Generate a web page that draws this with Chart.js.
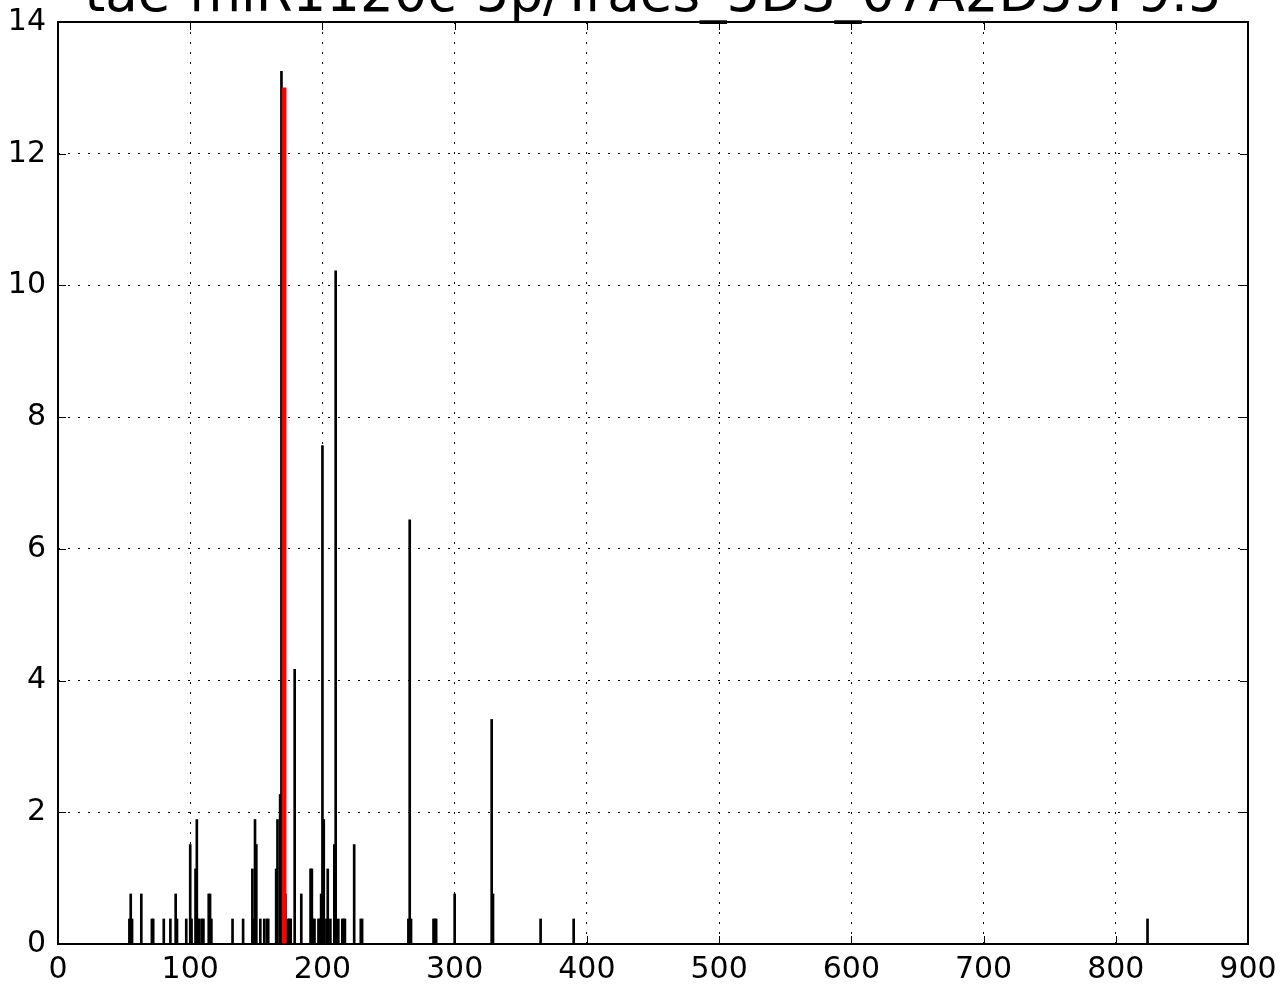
<!DOCTYPE html>
<html>
<head>
<meta charset="utf-8">
<script src="https://cdn.jsdelivr.net/npm/chart.js@4"></script>
<style>
  body { margin: 0; background: #fff; }
  #wrap { width: 1282px; height: 985px; }
</style>
</head>
<body>
<div id="wrap"><canvas id="chart"></canvas></div>
<script>
// read positions and read-out heights
const titleText = "tae-miR1120c-5p/Traes_5DS_07A2D59F9.5";
const positions = [54, 55, 56, 63, 71, 72, 80, 85, 89, 90, 97, 100, 101, 104, 105, 106, 107, 109, 110,
  114, 115, 116, 132, 140, 147, 148, 149, 150, 153, 156, 158, 159, 165, 166, 168, 169, 172, 174, 175,
  176, 179, 184, 191, 192, 193, 194, 197, 198, 199, 200, 201, 203, 204, 206, 209, 210, 212, 215, 216,
  217, 224, 229, 230, 265, 266, 267, 284, 285, 286, 300, 328, 329, 365, 390, 824];
const heights = [0.38, 0.76, 0.38, 0.76, 0.38, 0.38, 0.38, 0.38, 0.76, 0.38, 0.38, 1.51, 0.38, 1.14, 1.89, 0.38, 0.38, 0.38, 0.38,
  0.76, 0.76, 0.38, 0.38, 0.38, 1.14, 0.38, 1.89, 1.51, 0.38, 0.38, 0.38, 0.38, 1.14, 1.89, 2.27, 13.25, 0.76, 0.38, 0.38,
  0.38, 4.17, 0.76, 1.14, 1.14, 0.38, 0.38, 0.38, 0.38, 0.76, 7.57, 1.89, 0.38, 1.14, 0.38, 1.51, 10.22, 0.38, 0.38, 0.38,
  0.38, 1.51, 0.38, 0.38, 0.38, 6.44, 0.38, 0.38, 0.38, 0.38, 0.76, 3.41, 0.76, 0.38, 0.38, 0.38];
const targetPos = [171];
const targetHeight = [13.0];
const xTicks = [0, 100, 200, 300, 400, 500, 600, 700, 800, 900];
const yTicks = [0, 2, 4, 6, 8, 10, 12, 14];

const FONT = "'DejaVu Sans', sans-serif";

// frame with inward ticks on every side, like the old matplotlib style
const framePlugin = {
  id: "frame",
  afterDatasetsDraw(chart) {
    const { ctx, chartArea: a, scales } = chart;
    ctx.save();
    ctx.strokeStyle = "#000";
    ctx.lineWidth = 1;
    ctx.beginPath();
    xTicks.forEach(v => {
      const px = Math.round(scales.x.getPixelForValue(v)) + 0.5;
      ctx.moveTo(px, a.bottom); ctx.lineTo(px, a.bottom - 8);
      ctx.moveTo(px, a.top); ctx.lineTo(px, a.top + 8);
    });
    yTicks.forEach(v => {
      const py = Math.round(scales.y.getPixelForValue(v)) + 0.5;
      ctx.moveTo(a.left, py); ctx.lineTo(a.left + 8, py);
      ctx.moveTo(a.right, py); ctx.lineTo(a.right - 8, py);
    });
    ctx.stroke();
    ctx.lineWidth = 2;
    ctx.strokeRect(a.left, a.top, a.right - a.left, a.bottom - a.top);
    ctx.restore();
  },
  afterDraw(chart) {
    const { ctx, chartArea: a } = chart;
    ctx.save();
    ctx.fillStyle = "#000";
    ctx.font = "53px " + FONT;
    ctx.textAlign = "center";
    ctx.textBaseline = "alphabetic";
    ctx.fillText(titleText, (a.left + a.right) / 2, 11);
    ctx.restore();
  }
};

new Chart(document.getElementById("chart").getContext("2d"), {
  type: "bar",
  data: {
    datasets: [
      {
        label: "target",
        data: targetPos.map((x, i) => ({ x: x, y: targetHeight[i] })),
        backgroundColor: "#ff0000",
        barThickness: 4,
        order: 0
      },
      {
        label: "reads",
        data: positions.map((x, i) => ({ x: x, y: heights[i] })),
        backgroundColor: "#000000",
        barThickness: 2,
        order: 1
      }
    ]
  },
  options: {
    responsive: true,
    maintainAspectRatio: false,
    animation: false,
    grouped: false,
    layout: { padding: { left: 0, right: 34, top: 22, bottom: 0 } },
    plugins: {
      legend: { display: false },
      tooltip: { enabled: false },
      title: { display: false }
    },
    scales: {
      x: {
        type: "linear",
        offset: false,
        min: 0,
        max: 900,
        afterBuildTicks: s => { s.ticks = xTicks.map(v => ({ value: v })); },
        afterFit: s => { s.height = 41; s.paddingLeft = 0; s.paddingRight = 0; },
        grid: { color: "#000", lineWidth: 1, drawTicks: false, offset: false },
        border: { display: false, dash: [2, 8] },
        ticks: { color: "#000", font: { family: FONT, size: 30 }, padding: 8, maxRotation: 0 }
      },
      y: {
        min: 0,
        max: 14,
        afterBuildTicks: s => { s.ticks = yTicks.map(v => ({ value: v })); },
        afterFit: s => { s.width = 58; s.paddingTop = 0; s.paddingBottom = 0; },
        grid: { color: "#000", lineWidth: 1, drawTicks: false },
        border: { display: false, dash: [2, 8] },
        ticks: { color: "#000", font: { family: FONT, size: 30 }, padding: 12 }
      }
    }
  },
  plugins: [framePlugin]
});
</script>
</body>
</html>
